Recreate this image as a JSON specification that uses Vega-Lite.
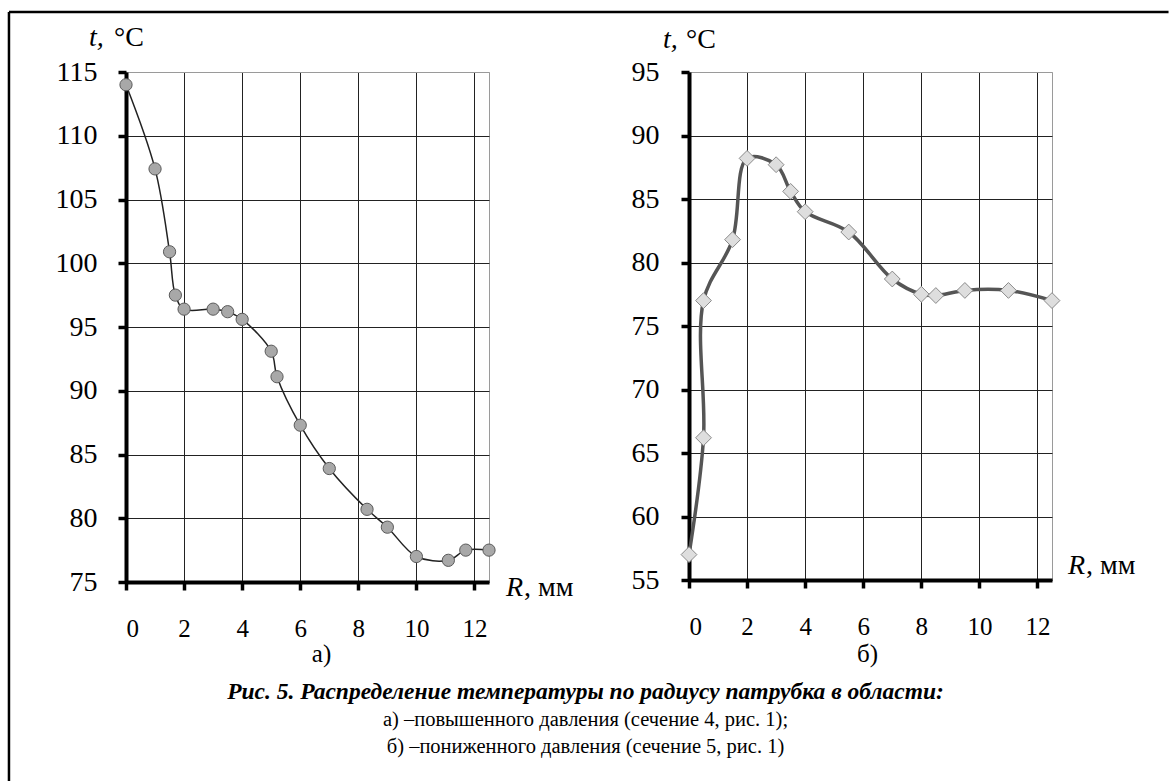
{
  "$schema": "https://vega.github.io/schema/vega-lite/v6.json",
  "background": "white",
  "padding": {"left": 7, "top": 10, "right": 0, "bottom": 0},
  "autosize": {"type": "pad"},
  "bounds": "flush",
  "spacing": 200,
  "datasets": {
    "a": [
      {"i": 1, "R": 0, "t": 114.0},
      {"i": 2, "R": 1.0, "t": 107.4},
      {"i": 3, "R": 1.5, "t": 100.9},
      {"i": 4, "R": 1.7, "t": 97.5},
      {"i": 5, "R": 2.0, "t": 96.4},
      {"i": 6, "R": 3.0, "t": 96.4},
      {"i": 7, "R": 3.5, "t": 96.2},
      {"i": 8, "R": 4.0, "t": 95.6},
      {"i": 9, "R": 5.0, "t": 93.1},
      {"i": 10, "R": 5.2, "t": 91.1},
      {"i": 11, "R": 6.0, "t": 87.3},
      {"i": 12, "R": 7.0, "t": 83.9},
      {"i": 13, "R": 8.3, "t": 80.7},
      {"i": 14, "R": 9.0, "t": 79.3},
      {"i": 15, "R": 10.0, "t": 77.0},
      {"i": 16, "R": 11.1, "t": 76.7},
      {"i": 17, "R": 11.7, "t": 77.5},
      {"i": 18, "R": 12.5, "t": 77.5}
    ],
    "b": [
      {"i": 1, "R": 0, "t": 57.0},
      {"i": 2, "R": 0.5, "t": 66.2},
      {"i": 3, "R": 0.5, "t": 77.0},
      {"i": 4, "R": 1.5, "t": 81.8},
      {"i": 5, "R": 2.0, "t": 88.2},
      {"i": 6, "R": 3.0, "t": 87.7},
      {"i": 7, "R": 3.5, "t": 85.6},
      {"i": 8, "R": 4.0, "t": 84.0},
      {"i": 9, "R": 5.5, "t": 82.4},
      {"i": 10, "R": 7.0, "t": 78.7},
      {"i": 11, "R": 8.0, "t": 77.5},
      {"i": 12, "R": 8.5, "t": 77.4},
      {"i": 13, "R": 9.5, "t": 77.8},
      {"i": 14, "R": 11.0, "t": 77.8},
      {"i": 15, "R": 12.5, "t": 77.0}
    ]
  },
  "config": {
    "font": "Liberation Serif",
    "view": {"stroke": "#9a9a9a", "strokeWidth": 1},
    "axis": {
      "labelFont": "Liberation Serif",
      "labelColor": "black",
      "domainColor": "black",
      "domainWidth": 4,
      "tickColor": "black",
      "tickWidth": 3.5,
      "tickSize": 8,
      "gridWidth": 1
    },
    "text": {"font": "Liberation Serif", "fontSize": 28, "color": "black", "baseline": "alphabetic"}
  },
  "hconcat": [
    {
      "width": 363,
      "height": 510,
      "layer": [
        {
          "data": {"name": "a"},
          "mark": {"type": "line", "interpolate": "catmull-rom", "color": "#222222", "strokeWidth": 1.5},
          "encoding": {
            "x": {"field": "R", "type": "quantitative",
              "scale": {"domain": [0, 12.5], "nice": false, "zero": false},
              "axis": {"title": null, "values": [0, 2, 4, 6, 8, 10, 12], "labelFont": "Liberation Serif", "labelFontSize": 25, "labelPadding": 26, "gridColor": "#222222"}},
            "y": {"field": "t", "type": "quantitative",
              "scale": {"domain": [75, 115], "nice": false, "zero": false},
              "axis": {"title": null, "values": [75, 80, 85, 90, 95, 100, 105, 110, 115], "labelFont": "Liberation Serif", "labelFontSize": 28, "labelPadding": 21,
                "gridColor": {"condition": {"test": "datum.value >= 115", "value": "#9a9a9a"}, "value": "#222222"}}},
            "order": {"field": "i", "type": "quantitative"}
          }
        },
        {
          "data": {"name": "a"},
          "mark": {"type": "point", "shape": "circle", "filled": true, "fill": "#a8a8a8", "stroke": "#5a5a5a", "strokeWidth": 1, "size": 150, "opacity": 1},
          "encoding": {
            "x": {"field": "R", "type": "quantitative"},
            "y": {"field": "t", "type": "quantitative"}
          }
        },
        {
          "data": {"values": [{}]},
          "mark": {"type": "rule", "color": "black", "strokeWidth": 2.5},
          "encoding": {"x": {"datum": -4.03}, "x2": {"datum": 35.9}, "y": {"datum": 119.706}}
        },
        {
          "data": {"values": [{}]},
          "mark": {"type": "rule", "color": "black", "strokeWidth": 2.5},
          "encoding": {"x": {"datum": -4.03}, "y": {"datum": 119.706}, "y2": {"datum": 59.4}}
        },
        {
          "data": {"values": [{}]},
          "mark": {"type": "text", "text": "t,", "font": "Liberation Serif", "fontStyle": "italic", "align": "left", "dx": -37, "dy": -26},
          "encoding": {"x": {"datum": 0}, "y": {"datum": 115}}
        },
        {
          "data": {"values": [{}]},
          "mark": {"type": "text", "text": "°C", "font": "Liberation Serif", "align": "left", "dx": -12, "dy": -26},
          "encoding": {"x": {"datum": 0}, "y": {"datum": 115}}
        },
        {
          "data": {"values": [{}]},
          "mark": {"type": "text", "text": "R", "font": "Liberation Serif", "fontStyle": "italic", "align": "left", "dx": 17, "dy": 14},
          "encoding": {"x": {"datum": 12.5}, "y": {"datum": 75}}
        },
        {
          "data": {"values": [{}]},
          "mark": {"type": "text", "text": ", мм", "font": "Liberation Serif", "align": "left", "dx": 35, "dy": 14},
          "encoding": {"x": {"datum": 12.5}, "y": {"datum": 75}}
        },
        {
          "data": {"values": [{}]},
          "mark": {"type": "text", "text": "а)", "font": "Liberation Serif", "align": "center", "fontSize": 25, "dx": 14, "dy": 80},
          "encoding": {"x": {"datum": 6.25}, "y": {"datum": 75}}
        },
        {
          "data": {"values": [{}]},
          "mark": {"type": "text", "text": "Рис. 5. Распределение температуры по радиусу патрубка в области:", "font": "Liberation Serif", "align": "center", "fontSize": 23.5, "fontStyle": "italic", "fontWeight": "bold", "dx": 278, "dy": 117},
          "encoding": {"x": {"datum": 6.25}, "y": {"datum": 75}}
        },
        {
          "data": {"values": [{}]},
          "mark": {"type": "text", "text": "а) –повышенного давления (сечение 4, рис. 1);", "font": "Liberation Serif", "align": "center", "fontSize": 20.5, "dx": 278, "dy": 144},
          "encoding": {"x": {"datum": 6.25}, "y": {"datum": 75}}
        },
        {
          "data": {"values": [{}]},
          "mark": {"type": "text", "text": "б) –пониженного давления (сечение 5, рис. 1)", "font": "Liberation Serif", "align": "center", "fontSize": 20.5, "dx": 278, "dy": 171},
          "encoding": {"x": {"datum": 6.25}, "y": {"datum": 75}}
        }
      ]
    },
    {
      "width": 363,
      "height": 508,
      "layer": [
        {
          "data": {"name": "b"},
          "mark": {"type": "line", "interpolate": "catmull-rom", "color": "#555555", "strokeWidth": 3.5},
          "encoding": {
            "x": {"field": "R", "type": "quantitative",
              "scale": {"domain": [0, 12.5], "nice": false, "zero": false},
              "axis": {"title": null, "values": [0, 2, 4, 6, 8, 10, 12], "labelFont": "Liberation Serif", "labelFontSize": 25, "labelPadding": 26, "gridColor": "#222222"}},
            "y": {"field": "t", "type": "quantitative",
              "scale": {"domain": [55, 95], "nice": false, "zero": false},
              "axis": {"title": null, "values": [55, 60, 65, 70, 75, 80, 85, 90, 95], "labelFont": "Liberation Serif", "labelFontSize": 28, "labelPadding": 22,
                "gridColor": {"condition": {"test": "datum.value >= 95", "value": "#9a9a9a"}, "value": "#222222"}}},
            "order": {"field": "i", "type": "quantitative"}
          }
        },
        {
          "data": {"name": "b"},
          "mark": {"type": "point", "shape": "diamond", "filled": true, "fill": "#dedede", "stroke": "#8a8a8a", "strokeWidth": 1, "size": 250, "opacity": 1},
          "encoding": {
            "x": {"field": "R", "type": "quantitative"},
            "y": {"field": "t", "type": "quantitative"}
          }
        },
        {
          "data": {"values": [{}]},
          "mark": {"type": "text", "text": "t,", "font": "Liberation Serif", "fontStyle": "italic", "align": "left", "dx": -26, "dy": -24},
          "encoding": {"x": {"datum": 0}, "y": {"datum": 95}}
        },
        {
          "data": {"values": [{}]},
          "mark": {"type": "text", "text": "°C", "font": "Liberation Serif", "align": "left", "dx": -3, "dy": -24},
          "encoding": {"x": {"datum": 0}, "y": {"datum": 95}}
        },
        {
          "data": {"values": [{}]},
          "mark": {"type": "text", "text": "R", "font": "Liberation Serif", "fontStyle": "italic", "align": "left", "dx": 16, "dy": -6},
          "encoding": {"x": {"datum": 12.5}, "y": {"datum": 55}}
        },
        {
          "data": {"values": [{}]},
          "mark": {"type": "text", "text": ", мм", "font": "Liberation Serif", "align": "left", "dx": 34, "dy": -6},
          "encoding": {"x": {"datum": 12.5}, "y": {"datum": 55}}
        },
        {
          "data": {"values": [{}]},
          "mark": {"type": "text", "text": "б)", "font": "Liberation Serif", "align": "center", "fontSize": 25, "dx": -3, "dy": 82},
          "encoding": {"x": {"datum": 6.25}, "y": {"datum": 55}}
        }
      ]
    }
  ]
}
